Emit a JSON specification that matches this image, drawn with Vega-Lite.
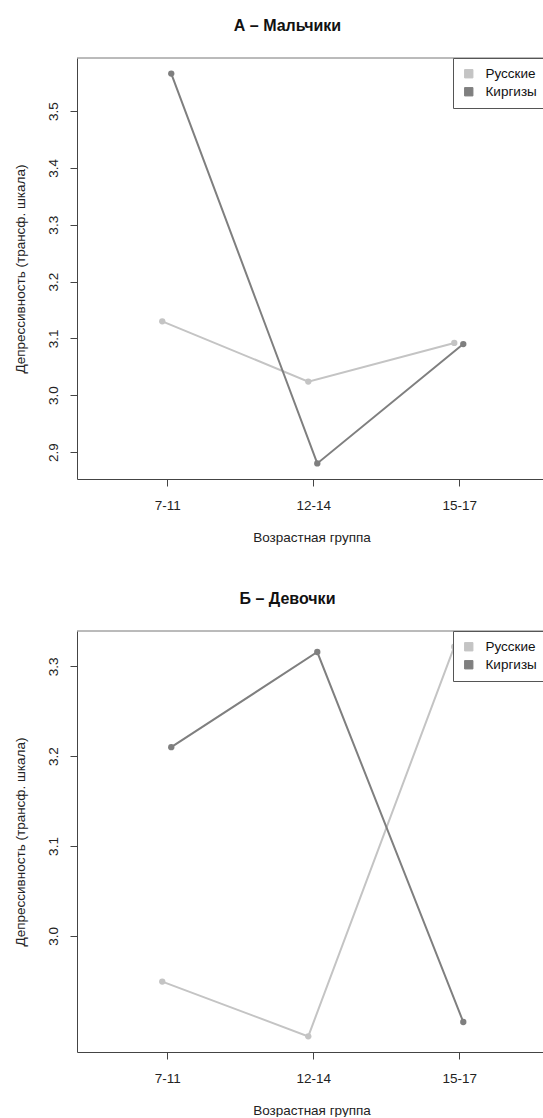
{
  "$schema": "https://vega.github.io/schema/vega-lite/v6.json",
  "background": "white",
  "padding": {"left": 12, "top": 17, "right": 0, "bottom": 0},
  "bounds": "flush",
  "spacing": 152,
  "resolve": {"scale": {"color": "independent"}, "legend": {"color": "independent"}},
  "config": {
    "font": "Liberation Sans",
    "view": {"stroke": null},
    "axis": {
      "labelFont": "Liberation Sans",
      "titleFont": "Liberation Sans",
      "labelFontSize": 13.5,
      "titleFontSize": 13.5,
      "titleFontWeight": "normal",
      "labelColor": "#222",
      "titleColor": "#222",
      "tickColor": "#444",
      "domainColor": "#444",
      "tickSize": 7,
      "grid": false
    },
    "legend": {
      "orient": "top-right",
      "offset": 0,
      "padding": 9,
      "strokeColor": "#555",
      "fillColor": "white",
      "labelFont": "Liberation Sans",
      "labelFontSize": 13.5,
      "labelColor": "#111",
      "symbolType": "square",
      "symbolSize": 70,
      "labelOffset": 10,
      "rowPadding": 3,
      "title": null
    },
    "title": {"font": "Liberation Sans", "fontSize": 16, "fontWeight": "bold", "color": "#111", "anchor": "middle", "frame": "group", "offset": 24, "dx": -24}
  },
  "datasets": {
    "boys": [
      {"age": "7-11", "group": "Русские", "value": 3.130},
      {"age": "12-14", "group": "Русские", "value": 3.024},
      {"age": "15-17", "group": "Русские", "value": 3.092},
      {"age": "7-11", "group": "Киргизы", "value": 3.566},
      {"age": "12-14", "group": "Киргизы", "value": 2.880},
      {"age": "15-17", "group": "Киргизы", "value": 3.090}
    ],
    "girls": [
      {"age": "7-11", "group": "Русские", "value": 2.949},
      {"age": "12-14", "group": "Русские", "value": 2.888},
      {"age": "15-17", "group": "Русские", "value": 3.322},
      {"age": "7-11", "group": "Киргизы", "value": 3.210},
      {"age": "12-14", "group": "Киргизы", "value": 3.316},
      {"age": "15-17", "group": "Киргизы", "value": 2.904}
    ]
  },
  "vconcat": [
    {
      "title": {"text": "А – Мальчики"},
      "width": 469,
      "height": 421,
      "data": {"name": "boys"},
      "layer": [
        {
          "transform": [{"filter": "datum.group === 'Русские'"}],
          "mark": {"type": "point", "filled": true, "size": 40, "opacity": 1, "xOffset": -5},
          "encoding": {
            "x": {"field": "age", "type": "ordinal", "sort": ["7-11", "12-14", "15-17"], "scale": {"type": "point", "padding": 0.606, "align": 0.51}, "axis": {"title": "Возрастная группа", "labelAngle": 0, "labelPadding": 12, "titlePadding": 19}},
            "y": {"field": "value", "type": "quantitative", "scale": {"domain": [2.8526, 3.5934], "zero": false, "nice": false}, "axis": {"title": "Депрессивность (трансф. шкала)", "values": [2.9, 3.0, 3.1, 3.2, 3.3, 3.4, 3.5], "format": ".1f", "labelAngle": -90, "labelAlign": "center", "labelBaseline": "bottom", "labelPadding": 10, "titlePadding": 19}},
            "color": {"field": "group", "type": "nominal", "scale": {"domain": ["Русские", "Киргизы"], "range": ["#c4c4c4", "#7f7f7f"]}, "legend": {"symbolStrokeColor": "#222", "symbolStrokeWidth": 1, "encode": {"symbols": {"update": {"stroke": {"value": "#222"}, "strokeWidth": {"value": 1}}}}}}
          }
        },
        {
          "transform": [{"filter": "datum.group === 'Киргизы'"}],
          "mark": {"type": "point", "filled": true, "size": 40, "opacity": 1, "xOffset": 4},
          "encoding": {
            "x": {"field": "age", "type": "ordinal", "sort": ["7-11", "12-14", "15-17"]},
            "y": {"field": "value", "type": "quantitative"},
            "color": {"field": "group", "type": "nominal"}
          }
        },
        {
          "transform": [{"filter": "datum.group === 'Русские'"}],
          "mark": {"type": "line", "strokeWidth": 2, "xOffset": -5},
          "encoding": {
            "x": {"field": "age", "type": "ordinal", "sort": ["7-11", "12-14", "15-17"]},
            "y": {"field": "value", "type": "quantitative"},
            "color": {"field": "group", "type": "nominal"}
          }
        },
        {
          "transform": [{"filter": "datum.group === 'Киргизы'"}],
          "mark": {"type": "line", "strokeWidth": 2, "xOffset": 4},
          "encoding": {
            "x": {"field": "age", "type": "ordinal", "sort": ["7-11", "12-14", "15-17"]},
            "y": {"field": "value", "type": "quantitative"},
            "color": {"field": "group", "type": "nominal"}
          }
        },
        {
          "data": {"values": [{}]},
          "mark": {"type": "rule", "color": "#777", "strokeWidth": 1},
          "encoding": {"y": {"datum": 3.5934}}
        }
      ]
    },
    {
      "title": {"text": "Б – Девочки"},
      "width": 469,
      "height": 421,
      "data": {"name": "girls"},
      "layer": [
        {
          "transform": [{"filter": "datum.group === 'Русские'"}],
          "mark": {"type": "point", "filled": true, "size": 40, "opacity": 1, "xOffset": -5},
          "encoding": {
            "x": {"field": "age", "type": "ordinal", "sort": ["7-11", "12-14", "15-17"], "scale": {"type": "point", "padding": 0.606, "align": 0.51}, "axis": {"title": "Возрастная группа", "labelAngle": 0, "labelPadding": 12, "titlePadding": 19}},
            "y": {"field": "value", "type": "quantitative", "scale": {"domain": [2.8706, 3.3394], "zero": false, "nice": false}, "axis": {"title": "Депрессивность (трансф. шкала)", "values": [3.0, 3.1, 3.2, 3.3], "format": ".1f", "labelAngle": -90, "labelAlign": "center", "labelBaseline": "bottom", "labelPadding": 10, "titlePadding": 19}},
            "color": {"field": "group", "type": "nominal", "scale": {"domain": ["Русские", "Киргизы"], "range": ["#c4c4c4", "#7f7f7f"]}, "legend": {"symbolStrokeColor": "#222", "symbolStrokeWidth": 1, "encode": {"symbols": {"update": {"stroke": {"value": "#222"}, "strokeWidth": {"value": 1}}}}}}
          }
        },
        {
          "transform": [{"filter": "datum.group === 'Киргизы'"}],
          "mark": {"type": "point", "filled": true, "size": 40, "opacity": 1, "xOffset": 4},
          "encoding": {
            "x": {"field": "age", "type": "ordinal", "sort": ["7-11", "12-14", "15-17"]},
            "y": {"field": "value", "type": "quantitative"},
            "color": {"field": "group", "type": "nominal"}
          }
        },
        {
          "transform": [{"filter": "datum.group === 'Русские'"}],
          "mark": {"type": "line", "strokeWidth": 2, "xOffset": -5},
          "encoding": {
            "x": {"field": "age", "type": "ordinal", "sort": ["7-11", "12-14", "15-17"]},
            "y": {"field": "value", "type": "quantitative"},
            "color": {"field": "group", "type": "nominal"}
          }
        },
        {
          "transform": [{"filter": "datum.group === 'Киргизы'"}],
          "mark": {"type": "line", "strokeWidth": 2, "xOffset": 4},
          "encoding": {
            "x": {"field": "age", "type": "ordinal", "sort": ["7-11", "12-14", "15-17"]},
            "y": {"field": "value", "type": "quantitative"},
            "color": {"field": "group", "type": "nominal"}
          }
        },
        {
          "data": {"values": [{}]},
          "mark": {"type": "rule", "color": "#777", "strokeWidth": 1},
          "encoding": {"y": {"datum": 3.3394}}
        }
      ]
    }
  ]
}
